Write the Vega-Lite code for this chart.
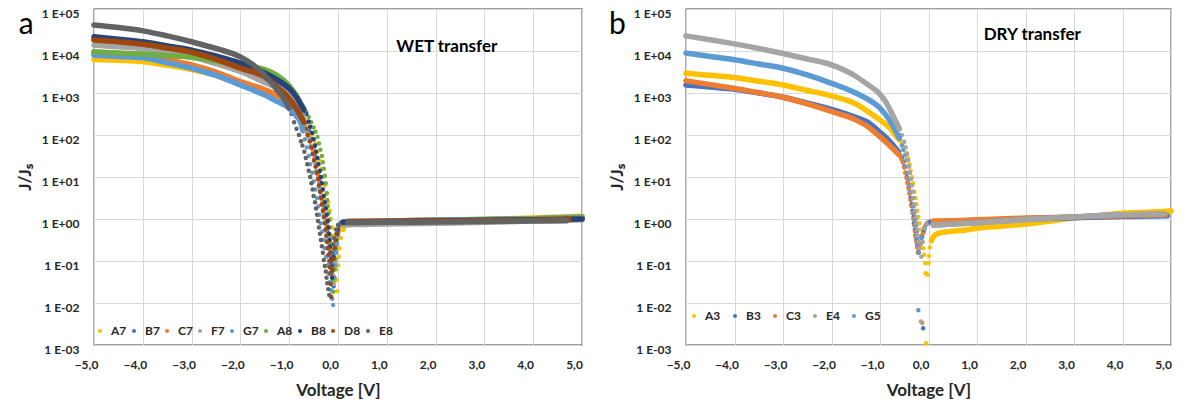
{
"$schema":"https://vega.github.io/schema/vega-lite/v6.json",
"background":"white",
"padding":{"left":15,"top":6,"right":0,"bottom":0},
"spacing":21,
"config":{
 "font":"Lato",
 "view":{"stroke":"#404040","strokeWidth":1.3},
 "axis":{"labelFont":"Lato","labelFontWeight":"bold","labelFontSize":12,"labelColor":"#262626","titleFont":"Lato","titleFontWeight":"bold","titleFontSize":17,"titleColor":"#262626","gridColor":"#d9d9d9","gridWidth":1,"domain":false,"ticks":false},
 "legend":{"labelFont":"Lato","labelFontWeight":"bold","labelFontSize":12,"labelColor":"#262626"}
},
"resolve":{"scale":{"x":"independent","y":"independent","color":"independent","stroke":"independent"},"legend":{"color":"independent"}},
"datasets":{
"wet":[
{"s":"A7","v":-5,"j":6310},{"s":"A7","v":-4.5,"j":6030},{"s":"A7","v":-4,"j":5620},{"s":"A7","v":-3.5,"j":4570},{"s":"A7","v":-3,"j":3630},{"s":"A7","v":-2.5,"j":2630},{"s":"A7","v":-2,"j":1620},{"s":"A7","v":-1.5,"j":955},{"s":"A7","v":-1.25,"j":708},{"s":"A7","v":-1,"j":513},{"s":"A7","v":-0.85,"j":363},{"s":"A7","v":-0.7,"j":229},{"s":"A7","v":-0.62,"j":158},{"s":"A7","v":-0.54,"j":100},{"s":"A7","v":-0.47,"j":63.1},{"s":"A7","v":-0.42,"j":39.8},{"s":"A7","v":-0.38,"j":25.1},{"s":"A7","v":-0.34,"j":15.8},{"s":"A7","v":-0.3,"j":10},{"s":"A7","v":-0.27,"j":6.31},{"s":"A7","v":-0.23,"j":3.98},{"s":"A7","v":-0.2,"j":2.51},{"s":"A7","v":-0.17,"j":1.58},{"s":"A7","v":-0.15,"j":1.0},{"s":"A7","v":-0.12,"j":0.631},{"s":"A7","v":-0.1,"j":0.398},{"s":"A7","v":-0.08,"j":0.251},{"s":"A7","v":-0.06,"j":0.158},{"s":"A7","v":-0.05,"j":0.1},{"s":"A7","v":-0.04,"j":0.0631},{"s":"A7","v":-0.03,"j":0.0355},{"s":"A7","v":-0.02,"j":0.0191},{"s":"A7","v":0,"j":0.0794},{"s":"A7","v":0.015,"j":0.126},{"s":"A7","v":0.03,"j":0.2},{"s":"A7","v":0.06,"j":0.355},{"s":"A7","v":0.1,"j":0.562},{"s":"A7","v":0.15,"j":0.759},{"s":"A7","v":0.2,"j":0.832},{"s":"A7","v":0.3,"j":0.871},{"s":"A7","v":1,"j":0.891},{"s":"A7","v":2,"j":0.933},{"s":"A7","v":3,"j":0.977},{"s":"A7","v":4,"j":1.05},{"s":"A7","v":5,"j":1.17},
{"s":"B7","v":-5,"j":19100},{"s":"B7","v":-4.5,"j":15800},{"s":"B7","v":-4,"j":13200},{"s":"B7","v":-3.5,"j":10500},{"s":"B7","v":-3,"j":8320},{"s":"B7","v":-2.5,"j":6310},{"s":"B7","v":-2,"j":4570},{"s":"B7","v":-1.5,"j":2820},{"s":"B7","v":-1.25,"j":2000},{"s":"B7","v":-1,"j":1200},{"s":"B7","v":-0.85,"j":708},{"s":"B7","v":-0.75,"j":417},{"s":"B7","v":-0.7,"j":316},{"s":"B7","v":-0.64,"j":200},{"s":"B7","v":-0.59,"j":126},{"s":"B7","v":-0.54,"j":79.4},{"s":"B7","v":-0.5,"j":50.1},{"s":"B7","v":-0.47,"j":31.6},{"s":"B7","v":-0.43,"j":20},{"s":"B7","v":-0.4,"j":12.6},{"s":"B7","v":-0.37,"j":7.94},{"s":"B7","v":-0.34,"j":5.01},{"s":"B7","v":-0.32,"j":3.16},{"s":"B7","v":-0.29,"j":2.0},{"s":"B7","v":-0.27,"j":1.26},{"s":"B7","v":-0.24,"j":0.794},{"s":"B7","v":-0.22,"j":0.501},{"s":"B7","v":-0.2,"j":0.316},{"s":"B7","v":-0.17,"j":0.2},{"s":"B7","v":-0.15,"j":0.126},{"s":"B7","v":-0.13,"j":0.0794},{"s":"B7","v":-0.11,"j":0.0447},{"s":"B7","v":-0.09,"j":0.0251},{"s":"B7","v":-0.06,"j":0.1},{"s":"B7","v":-0.045,"j":0.158},{"s":"B7","v":-0.03,"j":0.251},{"s":"B7","v":0,"j":0.447},{"s":"B7","v":0.05,"j":0.708},{"s":"B7","v":0.1,"j":0.832},{"s":"B7","v":0.2,"j":0.871},{"s":"B7","v":1,"j":0.891},{"s":"B7","v":2,"j":0.933},{"s":"B7","v":3,"j":0.955},{"s":"B7","v":4,"j":1.0},{"s":"B7","v":5,"j":1.05},
{"s":"C7","v":-5,"j":9330},{"s":"C7","v":-4.5,"j":8710},{"s":"C7","v":-4,"j":7940},{"s":"C7","v":-3.5,"j":6170},{"s":"C7","v":-3,"j":4680},{"s":"C7","v":-2.5,"j":3160},{"s":"C7","v":-2,"j":1860},{"s":"C7","v":-1.5,"j":1200},{"s":"C7","v":-1.25,"j":891},{"s":"C7","v":-1,"j":575},{"s":"C7","v":-0.85,"j":363},{"s":"C7","v":-0.75,"j":240},{"s":"C7","v":-0.7,"j":178},{"s":"C7","v":-0.63,"j":112},{"s":"C7","v":-0.57,"j":70.8},{"s":"C7","v":-0.52,"j":44.7},{"s":"C7","v":-0.48,"j":28.2},{"s":"C7","v":-0.45,"j":17.8},{"s":"C7","v":-0.41,"j":11.2},{"s":"C7","v":-0.38,"j":7.08},{"s":"C7","v":-0.35,"j":4.47},{"s":"C7","v":-0.32,"j":2.82},{"s":"C7","v":-0.29,"j":1.78},{"s":"C7","v":-0.26,"j":1.12},{"s":"C7","v":-0.23,"j":0.708},{"s":"C7","v":-0.2,"j":0.447},{"s":"C7","v":-0.18,"j":0.282},{"s":"C7","v":-0.16,"j":0.178},{"s":"C7","v":-0.14,"j":0.112},{"s":"C7","v":-0.12,"j":0.0708},{"s":"C7","v":-0.1,"j":0.0447},{"s":"C7","v":-0.09,"j":0.0316},{"s":"C7","v":-0.06,"j":0.112},{"s":"C7","v":-0.045,"j":0.178},{"s":"C7","v":-0.03,"j":0.282},{"s":"C7","v":0,"j":0.501},{"s":"C7","v":0.05,"j":0.708},{"s":"C7","v":0.1,"j":0.832},{"s":"C7","v":0.2,"j":0.871},{"s":"C7","v":1,"j":0.891},{"s":"C7","v":2,"j":0.933},{"s":"C7","v":3,"j":0.977},{"s":"C7","v":4,"j":1.02},{"s":"C7","v":5,"j":1.1},
{"s":"F7","v":-5,"j":13800},{"s":"F7","v":-4.5,"j":12600},{"s":"F7","v":-4,"j":11500},{"s":"F7","v":-3.5,"j":9120},{"s":"F7","v":-3,"j":7240},{"s":"F7","v":-2.5,"j":5010},{"s":"F7","v":-2,"j":3240},{"s":"F7","v":-1.5,"j":1780},{"s":"F7","v":-1.25,"j":1320},{"s":"F7","v":-1,"j":891},{"s":"F7","v":-0.85,"j":537},{"s":"F7","v":-0.75,"j":331},{"s":"F7","v":-0.7,"j":224},{"s":"F7","v":-0.65,"j":141},{"s":"F7","v":-0.61,"j":89.1},{"s":"F7","v":-0.56,"j":56.2},{"s":"F7","v":-0.52,"j":35.5},{"s":"F7","v":-0.48,"j":22.4},{"s":"F7","v":-0.45,"j":14.1},{"s":"F7","v":-0.41,"j":8.91},{"s":"F7","v":-0.38,"j":5.62},{"s":"F7","v":-0.35,"j":3.55},{"s":"F7","v":-0.32,"j":2.24},{"s":"F7","v":-0.29,"j":1.41},{"s":"F7","v":-0.26,"j":0.891},{"s":"F7","v":-0.24,"j":0.562},{"s":"F7","v":-0.21,"j":0.355},{"s":"F7","v":-0.19,"j":0.224},{"s":"F7","v":-0.17,"j":0.141},{"s":"F7","v":-0.15,"j":0.0891},{"s":"F7","v":-0.13,"j":0.0562},{"s":"F7","v":-0.09,"j":0.0282},{"s":"F7","v":-0.06,"j":0.1},{"s":"F7","v":-0.04,"j":0.178},{"s":"F7","v":-0.02,"j":0.282},{"s":"F7","v":0.02,"j":0.501},{"s":"F7","v":0.06,"j":0.661},{"s":"F7","v":0.12,"j":0.724},{"s":"F7","v":0.3,"j":0.741},{"s":"F7","v":1,"j":0.759},{"s":"F7","v":2,"j":0.794},{"s":"F7","v":3,"j":0.832},{"s":"F7","v":4,"j":0.891},{"s":"F7","v":5,"j":0.955},
{"s":"G7","v":-5,"j":7940},{"s":"G7","v":-4.5,"j":7410},{"s":"G7","v":-4,"j":6920},{"s":"G7","v":-3.5,"j":5250},{"s":"G7","v":-3,"j":3890},{"s":"G7","v":-2.5,"j":2630},{"s":"G7","v":-2,"j":1550},{"s":"G7","v":-1.5,"j":891},{"s":"G7","v":-1.25,"j":631},{"s":"G7","v":-1,"j":437},{"s":"G7","v":-0.85,"j":282},{"s":"G7","v":-0.75,"j":178},{"s":"G7","v":-0.72,"j":126},{"s":"G7","v":-0.68,"j":79.4},{"s":"G7","v":-0.64,"j":50.1},{"s":"G7","v":-0.6,"j":31.6},{"s":"G7","v":-0.57,"j":20},{"s":"G7","v":-0.53,"j":12.6},{"s":"G7","v":-0.5,"j":7.94},{"s":"G7","v":-0.46,"j":5.01},{"s":"G7","v":-0.43,"j":3.16},{"s":"G7","v":-0.4,"j":2.0},{"s":"G7","v":-0.38,"j":1.26},{"s":"G7","v":-0.35,"j":0.794},{"s":"G7","v":-0.32,"j":0.501},{"s":"G7","v":-0.29,"j":0.316},{"s":"G7","v":-0.27,"j":0.2},{"s":"G7","v":-0.24,"j":0.126},{"s":"G7","v":-0.21,"j":0.0794},{"s":"G7","v":-0.19,"j":0.0501},{"s":"G7","v":-0.16,"j":0.0316},{"s":"G7","v":-0.14,"j":0.02},{"s":"G7","v":-0.12,"j":0.0126},{"s":"G7","v":-0.1,"j":0.00891},{"s":"G7","v":-0.07,"j":0.0398},{"s":"G7","v":-0.055,"j":0.0794},{"s":"G7","v":-0.04,"j":0.158},{"s":"G7","v":-0.02,"j":0.251},{"s":"G7","v":0,"j":0.398},{"s":"G7","v":0.05,"j":0.708},{"s":"G7","v":0.1,"j":0.832},{"s":"G7","v":0.2,"j":0.871},{"s":"G7","v":1,"j":0.891},{"s":"G7","v":2,"j":0.933},{"s":"G7","v":3,"j":0.977},{"s":"G7","v":4,"j":1.02},{"s":"G7","v":5,"j":1.12},
{"s":"A8","v":-5,"j":9550},{"s":"A8","v":-4.5,"j":8910},{"s":"A8","v":-4,"j":8510},{"s":"A8","v":-3.5,"j":7760},{"s":"A8","v":-3,"j":7080},{"s":"A8","v":-2.5,"j":5750},{"s":"A8","v":-2,"j":4570},{"s":"A8","v":-1.5,"j":3630},{"s":"A8","v":-1.25,"j":2630},{"s":"A8","v":-1,"j":1480},{"s":"A8","v":-0.85,"j":851},{"s":"A8","v":-0.75,"j":525},{"s":"A8","v":-0.7,"j":417},{"s":"A8","v":-0.65,"j":355},{"s":"A8","v":-0.6,"j":269},{"s":"A8","v":-0.55,"j":200},{"s":"A8","v":-0.5,"j":151},{"s":"A8","v":-0.46,"j":120},{"s":"A8","v":-0.42,"j":89.1},{"s":"A8","v":-0.39,"j":63.1},{"s":"A8","v":-0.36,"j":44.7},{"s":"A8","v":-0.33,"j":31.6},{"s":"A8","v":-0.31,"j":22.4},{"s":"A8","v":-0.29,"j":15.8},{"s":"A8","v":-0.27,"j":10.7},{"s":"A8","v":-0.25,"j":7.08},{"s":"A8","v":-0.23,"j":4.17},{"s":"A8","v":-0.22,"j":2.82},{"s":"A8","v":-0.21,"j":2.0},{"s":"A8","v":-0.195,"j":1.38},{"s":"A8","v":-0.18,"j":0.955},{"s":"A8","v":-0.17,"j":0.631},{"s":"A8","v":-0.155,"j":0.398},{"s":"A8","v":-0.14,"j":0.251},{"s":"A8","v":-0.13,"j":0.166},{"s":"A8","v":-0.12,"j":0.112},{"s":"A8","v":-0.11,"j":0.0631},{"s":"A8","v":-0.105,"j":0.0355},{"s":"A8","v":-0.1,"j":0.0186},{"s":"A8","v":-0.07,"j":0.0631},{"s":"A8","v":-0.055,"j":0.112},{"s":"A8","v":-0.04,"j":0.2},{"s":"A8","v":-0.02,"j":0.316},{"s":"A8","v":0,"j":0.447},{"s":"A8","v":0.05,"j":0.708},{"s":"A8","v":0.1,"j":0.794},{"s":"A8","v":0.2,"j":0.832},{"s":"A8","v":1,"j":0.871},{"s":"A8","v":2,"j":0.912},{"s":"A8","v":3,"j":0.955},{"s":"A8","v":4,"j":1.0},{"s":"A8","v":5,"j":1.07},
{"s":"B8","v":-5,"j":21900},{"s":"B8","v":-4.5,"j":19100},{"s":"B8","v":-4,"j":16600},{"s":"B8","v":-3.5,"j":13200},{"s":"B8","v":-3,"j":10500},{"s":"B8","v":-2.5,"j":7590},{"s":"B8","v":-2,"j":5130},{"s":"B8","v":-1.5,"j":3020},{"s":"B8","v":-1.25,"j":2090},{"s":"B8","v":-1,"j":1290},{"s":"B8","v":-0.85,"j":794},{"s":"B8","v":-0.75,"j":501},{"s":"B8","v":-0.7,"j":398},{"s":"B8","v":-0.65,"j":316},{"s":"B8","v":-0.6,"j":209},{"s":"B8","v":-0.57,"j":158},{"s":"B8","v":-0.53,"j":112},{"s":"B8","v":-0.5,"j":79.4},{"s":"B8","v":-0.47,"j":56.2},{"s":"B8","v":-0.45,"j":39.8},{"s":"B8","v":-0.42,"j":28.2},{"s":"B8","v":-0.4,"j":20},{"s":"B8","v":-0.37,"j":14.1},{"s":"B8","v":-0.35,"j":10},{"s":"B8","v":-0.33,"j":7.08},{"s":"B8","v":-0.31,"j":5.01},{"s":"B8","v":-0.29,"j":3.55},{"s":"B8","v":-0.27,"j":2.51},{"s":"B8","v":-0.25,"j":1.78},{"s":"B8","v":-0.23,"j":1.26},{"s":"B8","v":-0.21,"j":0.891},{"s":"B8","v":-0.2,"j":0.631},{"s":"B8","v":-0.185,"j":0.447},{"s":"B8","v":-0.17,"j":0.316},{"s":"B8","v":-0.16,"j":0.224},{"s":"B8","v":-0.15,"j":0.158},{"s":"B8","v":-0.14,"j":0.112},{"s":"B8","v":-0.13,"j":0.0794},{"s":"B8","v":-0.125,"j":0.0562},{"s":"B8","v":-0.12,"j":0.0398},{"s":"B8","v":-0.09,"j":0.126},{"s":"B8","v":-0.07,"j":0.2},{"s":"B8","v":-0.05,"j":0.316},{"s":"B8","v":-0.02,"j":0.447},{"s":"B8","v":0,"j":0.562},{"s":"B8","v":0.05,"j":0.759},{"s":"B8","v":0.1,"j":0.832},{"s":"B8","v":0.2,"j":0.851},{"s":"B8","v":1,"j":0.871},{"s":"B8","v":2,"j":0.912},{"s":"B8","v":3,"j":0.933},{"s":"B8","v":4,"j":0.955},{"s":"B8","v":5,"j":1.0},
{"s":"D8","v":-5,"j":18200},{"s":"D8","v":-4.5,"j":16600},{"s":"D8","v":-4,"j":14500},{"s":"D8","v":-3.5,"j":11700},{"s":"D8","v":-3,"j":9330},{"s":"D8","v":-2.5,"j":6310},{"s":"D8","v":-2,"j":3890},{"s":"D8","v":-1.5,"j":2400},{"s":"D8","v":-1.25,"j":1410},{"s":"D8","v":-1,"j":741},{"s":"D8","v":-0.85,"j":417},{"s":"D8","v":-0.75,"j":263},{"s":"D8","v":-0.7,"j":200},{"s":"D8","v":-0.66,"j":141},{"s":"D8","v":-0.62,"j":100},{"s":"D8","v":-0.58,"j":70.8},{"s":"D8","v":-0.55,"j":50.1},{"s":"D8","v":-0.52,"j":35.5},{"s":"D8","v":-0.49,"j":25.1},{"s":"D8","v":-0.46,"j":17.8},{"s":"D8","v":-0.44,"j":12.6},{"s":"D8","v":-0.41,"j":8.91},{"s":"D8","v":-0.39,"j":6.31},{"s":"D8","v":-0.37,"j":4.47},{"s":"D8","v":-0.35,"j":3.16},{"s":"D8","v":-0.33,"j":2.24},{"s":"D8","v":-0.31,"j":1.58},{"s":"D8","v":-0.29,"j":1.12},{"s":"D8","v":-0.27,"j":0.794},{"s":"D8","v":-0.255,"j":0.562},{"s":"D8","v":-0.24,"j":0.398},{"s":"D8","v":-0.225,"j":0.282},{"s":"D8","v":-0.21,"j":0.2},{"s":"D8","v":-0.195,"j":0.141},{"s":"D8","v":-0.18,"j":0.1},{"s":"D8","v":-0.17,"j":0.0708},{"s":"D8","v":-0.16,"j":0.0501},{"s":"D8","v":-0.15,"j":0.0282},{"s":"D8","v":-0.14,"j":0.0141},{"s":"D8","v":-0.11,"j":0.0631},{"s":"D8","v":-0.09,"j":0.112},{"s":"D8","v":-0.07,"j":0.2},{"s":"D8","v":-0.05,"j":0.316},{"s":"D8","v":-0.03,"j":0.447},{"s":"D8","v":0.02,"j":0.708},{"s":"D8","v":0.08,"j":0.813},{"s":"D8","v":0.2,"j":0.851},{"s":"D8","v":1,"j":0.871},{"s":"D8","v":2,"j":0.891},{"s":"D8","v":3,"j":0.912},{"s":"D8","v":4,"j":0.933},{"s":"D8","v":4.73,"j":0.977},
{"s":"E8","v":-5,"j":41700},{"s":"E8","v":-4.5,"j":36300},{"s":"E8","v":-4,"j":30200},{"s":"E8","v":-3.5,"j":22900},{"s":"E8","v":-3,"j":16600},{"s":"E8","v":-2.5,"j":11500},{"s":"E8","v":-2,"j":7240},{"s":"E8","v":-1.75,"j":4790},{"s":"E8","v":-1.5,"j":2630},{"s":"E8","v":-1.25,"j":1200},{"s":"E8","v":-1.1,"j":708},{"s":"E8","v":-1,"j":437},{"s":"E8","v":-0.95,"j":316},{"s":"E8","v":-0.9,"j":200},{"s":"E8","v":-0.85,"j":141},{"s":"E8","v":-0.8,"j":100},{"s":"E8","v":-0.76,"j":70.8},{"s":"E8","v":-0.73,"j":56.2},{"s":"E8","v":-0.69,"j":39.8},{"s":"E8","v":-0.66,"j":28.2},{"s":"E8","v":-0.63,"j":20},{"s":"E8","v":-0.6,"j":14.1},{"s":"E8","v":-0.57,"j":10},{"s":"E8","v":-0.545,"j":7.08},{"s":"E8","v":-0.52,"j":5.01},{"s":"E8","v":-0.5,"j":3.55},{"s":"E8","v":-0.47,"j":2.51},{"s":"E8","v":-0.45,"j":1.78},{"s":"E8","v":-0.43,"j":1.26},{"s":"E8","v":-0.41,"j":0.891},{"s":"E8","v":-0.39,"j":0.631},{"s":"E8","v":-0.37,"j":0.447},{"s":"E8","v":-0.35,"j":0.316},{"s":"E8","v":-0.33,"j":0.224},{"s":"E8","v":-0.31,"j":0.158},{"s":"E8","v":-0.29,"j":0.105},{"s":"E8","v":-0.27,"j":0.0759},{"s":"E8","v":-0.25,"j":0.0562},{"s":"E8","v":-0.235,"j":0.0398},{"s":"E8","v":-0.22,"j":0.0295},{"s":"E8","v":-0.2,"j":0.0214},{"s":"E8","v":-0.18,"j":0.0155},{"s":"E8","v":-0.15,"j":0.0501},{"s":"E8","v":-0.135,"j":0.0891},{"s":"E8","v":-0.12,"j":0.158},{"s":"E8","v":-0.1,"j":0.251},{"s":"E8","v":-0.08,"j":0.355},{"s":"E8","v":-0.04,"j":0.562},{"s":"E8","v":0,"j":0.724},{"s":"E8","v":0.05,"j":0.794},{"s":"E8","v":0.2,"j":0.813},{"s":"E8","v":1,"j":0.832},{"s":"E8","v":2,"j":0.851},{"s":"E8","v":3,"j":0.871},{"s":"E8","v":4,"j":0.891},{"s":"E8","v":4.69,"j":0.912}
],
"dry":[
{"s":"A3","v":-5,"j":2950},{"s":"A3","v":-4.5,"j":2630},{"s":"A3","v":-4,"j":2340},{"s":"A3","v":-3.5,"j":1910},{"s":"A3","v":-3,"j":1550},{"s":"A3","v":-2.5,"j":1150},{"s":"A3","v":-2,"j":851},{"s":"A3","v":-1.5,"j":550},{"s":"A3","v":-1.25,"j":363},{"s":"A3","v":-1,"j":229},{"s":"A3","v":-0.8,"j":148},{"s":"A3","v":-0.66,"j":91.2},{"s":"A3","v":-0.6,"j":75.9},{"s":"A3","v":-0.55,"j":63.1},{"s":"A3","v":-0.5,"j":52.5},{"s":"A3","v":-0.46,"j":38},{"s":"A3","v":-0.42,"j":28.2},{"s":"A3","v":-0.39,"j":20},{"s":"A3","v":-0.37,"j":14.1},{"s":"A3","v":-0.34,"j":10},{"s":"A3","v":-0.32,"j":7.08},{"s":"A3","v":-0.29,"j":4.47},{"s":"A3","v":-0.27,"j":3.16},{"s":"A3","v":-0.25,"j":2.24},{"s":"A3","v":-0.23,"j":1.58},{"s":"A3","v":-0.21,"j":1.12},{"s":"A3","v":-0.19,"j":0.794},{"s":"A3","v":-0.17,"j":0.562},{"s":"A3","v":-0.15,"j":0.398},{"s":"A3","v":-0.13,"j":0.282},{"s":"A3","v":-0.11,"j":0.2},{"s":"A3","v":-0.09,"j":0.141},{"s":"A3","v":-0.07,"j":0.0891},{"s":"A3","v":-0.06,"j":0.0513},{"s":"A3","v":-0.05,"j":0.0011},{"s":"A3","v":-0.02,"j":0.0468},{"s":"A3","v":0,"j":0.0891},{"s":"A3","v":0.01,"j":0.132},{"s":"A3","v":0.03,"j":0.209},{"s":"A3","v":0.06,"j":0.302},{"s":"A3","v":0.1,"j":0.38},{"s":"A3","v":0.2,"j":0.457},{"s":"A3","v":0.4,"j":0.501},{"s":"A3","v":0.77,"j":0.55},{"s":"A3","v":1,"j":0.603},{"s":"A3","v":1.5,"j":0.676},{"s":"A3","v":2,"j":0.759},{"s":"A3","v":2.5,"j":0.891},{"s":"A3","v":3,"j":1.05},{"s":"A3","v":3.5,"j":1.2},{"s":"A3","v":4,"j":1.38},{"s":"A3","v":4.5,"j":1.45},{"s":"A3","v":5,"j":1.55},
{"s":"B3","v":-5,"j":1550},{"s":"B3","v":-4.5,"j":1380},{"s":"B3","v":-4,"j":1230},{"s":"B3","v":-3.5,"j":1000},{"s":"B3","v":-3,"j":794},{"s":"B3","v":-2.5,"j":575},{"s":"B3","v":-2,"j":407},{"s":"B3","v":-1.5,"j":263},{"s":"B3","v":-1.25,"j":200},{"s":"B3","v":-1,"j":115},{"s":"B3","v":-0.8,"j":70.8},{"s":"B3","v":-0.62,"j":39.8},{"s":"B3","v":-0.55,"j":28.2},{"s":"B3","v":-0.52,"j":22.4},{"s":"B3","v":-0.5,"j":17.8},{"s":"B3","v":-0.47,"j":12.6},{"s":"B3","v":-0.45,"j":10},{"s":"B3","v":-0.43,"j":7.41},{"s":"B3","v":-0.41,"j":5.62},{"s":"B3","v":-0.39,"j":4.17},{"s":"B3","v":-0.37,"j":3.16},{"s":"B3","v":-0.35,"j":2.24},{"s":"B3","v":-0.33,"j":1.58},{"s":"B3","v":-0.31,"j":1.12},{"s":"B3","v":-0.3,"j":0.794},{"s":"B3","v":-0.28,"j":0.562},{"s":"B3","v":-0.27,"j":0.398},{"s":"B3","v":-0.25,"j":0.316},{"s":"B3","v":-0.23,"j":0.251},{"s":"B3","v":-0.21,"j":0.166},{"s":"B3","v":-0.16,"j":0.263},{"s":"B3","v":-0.13,"j":0.38},{"s":"B3","v":-0.11,"j":0.00251},{"s":"B3","v":-0.1,"j":0.501},{"s":"B3","v":-0.08,"j":0.603},{"s":"B3","v":-0.03,"j":0.794},{"s":"B3","v":0.05,"j":0.851},{"s":"B3","v":0.5,"j":0.891},{"s":"B3","v":1,"j":0.933},{"s":"B3","v":2,"j":1.0},{"s":"B3","v":3,"j":1.07},{"s":"B3","v":4,"j":1.15},{"s":"B3","v":4.92,"j":1.2},
{"s":"C3","v":-5,"j":1950},{"s":"C3","v":-4.5,"j":1580},{"s":"C3","v":-4,"j":1290},{"s":"C3","v":-3.5,"j":1020},{"s":"C3","v":-3,"j":794},{"s":"C3","v":-2.5,"j":550},{"s":"C3","v":-2,"j":363},{"s":"C3","v":-1.5,"j":229},{"s":"C3","v":-1.25,"j":158},{"s":"C3","v":-1,"j":91.2},{"s":"C3","v":-0.8,"j":56.2},{"s":"C3","v":-0.6,"j":33.1},{"s":"C3","v":-0.56,"j":26.3},{"s":"C3","v":-0.53,"j":22.4},{"s":"C3","v":-0.5,"j":16.6},{"s":"C3","v":-0.48,"j":12.6},{"s":"C3","v":-0.45,"j":9.33},{"s":"C3","v":-0.43,"j":7.08},{"s":"C3","v":-0.41,"j":5.25},{"s":"C3","v":-0.39,"j":3.98},{"s":"C3","v":-0.37,"j":2.82},{"s":"C3","v":-0.35,"j":2.0},{"s":"C3","v":-0.33,"j":1.41},{"s":"C3","v":-0.31,"j":1.0},{"s":"C3","v":-0.295,"j":0.708},{"s":"C3","v":-0.28,"j":0.501},{"s":"C3","v":-0.265,"j":0.38},{"s":"C3","v":-0.25,"j":0.282},{"s":"C3","v":-0.235,"j":0.209},{"s":"C3","v":-0.22,"j":0.158},{"s":"C3","v":-0.17,"j":0.251},{"s":"C3","v":-0.15,"j":0.355},{"s":"C3","v":-0.13,"j":0.00339},{"s":"C3","v":-0.12,"j":0.447},{"s":"C3","v":-0.09,"j":0.603},{"s":"C3","v":-0.06,"j":0.708},{"s":"C3","v":0,"j":0.851},{"s":"C3","v":0.1,"j":0.891},{"s":"C3","v":0.5,"j":0.912},{"s":"C3","v":1,"j":0.955},{"s":"C3","v":2,"j":1.05},{"s":"C3","v":3,"j":1.12},{"s":"C3","v":4,"j":1.2},{"s":"C3","v":4.89,"j":1.26},
{"s":"G5","v":-5,"j":8910},{"s":"G5","v":-4.5,"j":7410},{"s":"G5","v":-4,"j":6170},{"s":"G5","v":-3.5,"j":4900},{"s":"G5","v":-3,"j":3890},{"s":"G5","v":-2.5,"j":2690},{"s":"G5","v":-2,"j":1700},{"s":"G5","v":-1.5,"j":1000},{"s":"G5","v":-1.25,"j":708},{"s":"G5","v":-1,"j":437},{"s":"G5","v":-0.8,"j":224},{"s":"G5","v":-0.7,"j":141},{"s":"G5","v":-0.6,"j":83.2},{"s":"G5","v":-0.55,"j":56.2},{"s":"G5","v":-0.52,"j":44.7},{"s":"G5","v":-0.49,"j":33.1},{"s":"G5","v":-0.46,"j":25.1},{"s":"G5","v":-0.43,"j":17.8},{"s":"G5","v":-0.41,"j":12.6},{"s":"G5","v":-0.39,"j":8.91},{"s":"G5","v":-0.37,"j":6.31},{"s":"G5","v":-0.35,"j":4.47},{"s":"G5","v":-0.33,"j":3.16},{"s":"G5","v":-0.31,"j":2.0},{"s":"G5","v":-0.29,"j":1.41},{"s":"G5","v":-0.27,"j":1.0},{"s":"G5","v":-0.255,"j":0.708},{"s":"G5","v":-0.24,"j":0.501},{"s":"G5","v":-0.23,"j":0.355},{"s":"G5","v":-0.22,"j":0.251},{"s":"G5","v":-0.21,"j":0.00676},{"s":"G5","v":-0.2,"j":0.158},{"s":"G5","v":-0.14,"j":0.355},{"s":"G5","v":-0.08,"j":0.631},{"s":"G5","v":-0.02,"j":0.794},{"s":"G5","v":0.1,"j":0.724},{"s":"G5","v":0.5,"j":0.759},{"s":"G5","v":1,"j":0.813},{"s":"G5","v":2,"j":0.977},{"s":"G5","v":3,"j":1.12},{"s":"G5","v":4,"j":1.26},{"s":"G5","v":4.85,"j":1.32},
{"s":"E4","v":-5,"j":22900},{"s":"E4","v":-4.5,"j":18600},{"s":"E4","v":-4,"j":14800},{"s":"E4","v":-3.5,"j":11500},{"s":"E4","v":-3,"j":8710},{"s":"E4","v":-2.5,"j":6460},{"s":"E4","v":-2,"j":4680},{"s":"E4","v":-1.5,"j":2510},{"s":"E4","v":-1.25,"j":1580},{"s":"E4","v":-1,"j":933},{"s":"E4","v":-0.9,"j":661},{"s":"E4","v":-0.8,"j":417},{"s":"E4","v":-0.7,"j":240},{"s":"E4","v":-0.6,"j":141},{"s":"E4","v":-0.55,"j":100},{"s":"E4","v":-0.5,"j":69.2},{"s":"E4","v":-0.47,"j":50.1},{"s":"E4","v":-0.44,"j":35.5},{"s":"E4","v":-0.42,"j":25.1},{"s":"E4","v":-0.4,"j":17.8},{"s":"E4","v":-0.38,"j":12.6},{"s":"E4","v":-0.36,"j":8.91},{"s":"E4","v":-0.34,"j":6.31},{"s":"E4","v":-0.325,"j":4.47},{"s":"E4","v":-0.31,"j":3.16},{"s":"E4","v":-0.295,"j":2.24},{"s":"E4","v":-0.28,"j":1.58},{"s":"E4","v":-0.265,"j":1.12},{"s":"E4","v":-0.25,"j":0.794},{"s":"E4","v":-0.235,"j":0.562},{"s":"E4","v":-0.22,"j":0.398},{"s":"E4","v":-0.2,"j":0.282},{"s":"E4","v":-0.18,"j":0.2},{"s":"E4","v":-0.16,"j":0.00363},{"s":"E4","v":-0.15,"j":0.126},{"s":"E4","v":-0.12,"j":0.282},{"s":"E4","v":-0.09,"j":0.603},{"s":"E4","v":-0.02,"j":0.759},{"s":"E4","v":0.1,"j":0.724},{"s":"E4","v":0.5,"j":0.759},{"s":"E4","v":1,"j":0.813},{"s":"E4","v":2,"j":0.977},{"s":"E4","v":3,"j":1.12},{"s":"E4","v":4,"j":1.26},{"s":"E4","v":4.85,"j":1.32}
]
},
"hconcat":[
{
 "width":488,"height":336,
 "data":{"name":"wet"},
 "layer":[
  {"mark":{"type":"point","filled":true,"size":20,"opacity":1},
   "encoding":{
    "x":{"field":"v","type":"quantitative","scale":{"domain":[-5,5],"nice":false,"zero":false},"axis":{"values":[-5,-4,-3,-2,-1,0,1,2,3,4,5],"labelExpr":"replace(format(datum.value,'.1f'),'.',',')","title":"Voltage [V]","labelPadding":14,"titlePadding":12,"labelOffset":-8,"labelFlush":false,"grid":true}},
    "y":{"field":"j","type":"quantitative","scale":{"type":"log","domain":[0.001,100000],"nice":false},"axis":{"values":[0.001,0.01,0.1,1,10,100,1000,10000,100000],"labelExpr":"'1 E' + (datum.value >= 1 ? '+' : '-') + '0' + abs(round(log(datum.value)/LN10))","title":"J/Jₛ","labelPadding":15,"titlePadding":7,"labelOffset":4,"grid":true}},
    "color":{"field":"s","type":"nominal","scale":{"domain":["A7","B7","C7","F7","G7","A8","B8","D8","E8"],"range":["#FFC000","#4472C4","#ED7D31","#A5A5A5","#5B9BD5","#70AD47","#264478","#9E480E","#636363"]},"legend":{"orient":"none","legendX":0,"legendY":316,"direction":"horizontal","columns":9,"title":null,"symbolType":"circle","symbolSize":16,"symbolStrokeWidth":0,"columnPadding":1,"labelOffset":5,"padding":0}}
   }},
  {"transform":[{"filter":"datum.v <= (datum.s == 'E8' ? -1.0 : -0.7)"}],
   "mark":{"type":"line","strokeWidth":5.5,"strokeCap":"round","strokeJoin":"round","interpolate":"monotone"},
   "encoding":{"x":{"field":"v","type":"quantitative"},"y":{"field":"j","type":"quantitative"},
    "stroke":{"field":"s","type":"nominal","scale":{"domain":["A7","B7","C7","F7","G7","A8","B8","D8","E8"],"range":["#FFC000","#4472C4","#ED7D31","#A5A5A5","#5B9BD5","#70AD47","#264478","#9E480E","#636363"]},"legend":null}}},
  {"transform":[{"filter":"datum.v >= 0.1"}],
   "mark":{"type":"line","strokeWidth":5.5,"strokeCap":"round","strokeJoin":"round","interpolate":"monotone"},
   "encoding":{"x":{"field":"v","type":"quantitative"},"y":{"field":"j","type":"quantitative"},
    "stroke":{"field":"s","type":"nominal","scale":{"domain":["A7","B7","C7","F7","G7","A8","B8","D8","E8"],"range":["#FFC000","#4472C4","#ED7D31","#A5A5A5","#5B9BD5","#70AD47","#264478","#9E480E","#636363"]},"legend":null}}},
  {"data":{"values":[{}]},
   "mark":{"type":"text","font":"Lato","fontSize":17,"fontWeight":"bold","color":"#000000"},
   "encoding":{"x":{"datum":2.23},"y":{"datum":12600},"text":{"value":"WET transfer"}}},
  {"data":{"values":[{}]},
   "mark":{"type":"text","font":"Lato","fontSize":30,"align":"left","baseline":"alphabetic","color":"#000000"},
   "encoding":{"x":{"datum":-6.54},"y":{"datum":25000},"text":{"value":"a"}}}
 ]
},
{
 "width":485,"height":336,
 "data":{"name":"dry"},
 "layer":[
  {"mark":{"type":"point","filled":true,"size":20,"opacity":1},
   "encoding":{
    "x":{"field":"v","type":"quantitative","scale":{"domain":[-5,5],"nice":false,"zero":false},"axis":{"values":[-5,-4,-3,-2,-1,0,1,2,3,4,5],"labelExpr":"replace(format(datum.value,'.1f'),'.',',')","title":"Voltage [V]","labelPadding":14,"titlePadding":12,"labelOffset":-8,"labelFlush":false,"grid":true}},
    "y":{"field":"j","type":"quantitative","scale":{"type":"log","domain":[0.001,100000],"nice":false},"axis":{"values":[0.001,0.01,0.1,1,10,100,1000,10000,100000],"labelExpr":"'1 E' + (datum.value >= 1 ? '+' : '-') + '0' + abs(round(log(datum.value)/LN10))","title":"J/Jₛ","labelPadding":15,"titlePadding":7,"labelOffset":4,"grid":true}},
    "color":{"field":"s","type":"nominal","scale":{"domain":["A3","B3","C3","E4","G5"],"range":["#FFC000","#4472C4","#ED7D31","#A5A5A5","#5B9BD5"]},"legend":{"orient":"none","legendX":2,"legendY":301,"direction":"horizontal","columns":5,"title":null,"symbolType":"circle","symbolSize":16,"symbolStrokeWidth":0,"columnPadding":8,"labelOffset":5,"padding":0}}
   }},
  {"transform":[{"filter":"datum.v <= -0.6"}],
   "mark":{"type":"line","strokeWidth":5.5,"strokeCap":"round","strokeJoin":"round","interpolate":"monotone"},
   "encoding":{"x":{"field":"v","type":"quantitative"},"y":{"field":"j","type":"quantitative"},
    "stroke":{"field":"s","type":"nominal","scale":{"domain":["A3","B3","C3","E4","G5"],"range":["#FFC000","#4472C4","#ED7D31","#A5A5A5","#5B9BD5"]},"legend":null}}},
  {"transform":[{"filter":"datum.v >= 0.05"}],
   "mark":{"type":"line","strokeWidth":5.5,"strokeCap":"round","strokeJoin":"round","interpolate":"monotone"},
   "encoding":{"x":{"field":"v","type":"quantitative"},"y":{"field":"j","type":"quantitative"},
    "stroke":{"field":"s","type":"nominal","scale":{"domain":["A3","B3","C3","E4","G5"],"range":["#FFC000","#4472C4","#ED7D31","#A5A5A5","#5B9BD5"]},"legend":null}}},
  {"data":{"values":[{}]},
   "mark":{"type":"text","font":"Lato","fontSize":17,"fontWeight":"bold","color":"#000000"},
   "encoding":{"x":{"datum":2.14},"y":{"datum":24000},"text":{"value":"DRY transfer"}}},
  {"data":{"values":[{}]},
   "mark":{"type":"text","font":"Lato","fontSize":30,"align":"left","baseline":"alphabetic","color":"#000000"},
   "encoding":{"x":{"datum":-6.59},"y":{"datum":25000},"text":{"value":"b"}}}
 ]
}
]
}
